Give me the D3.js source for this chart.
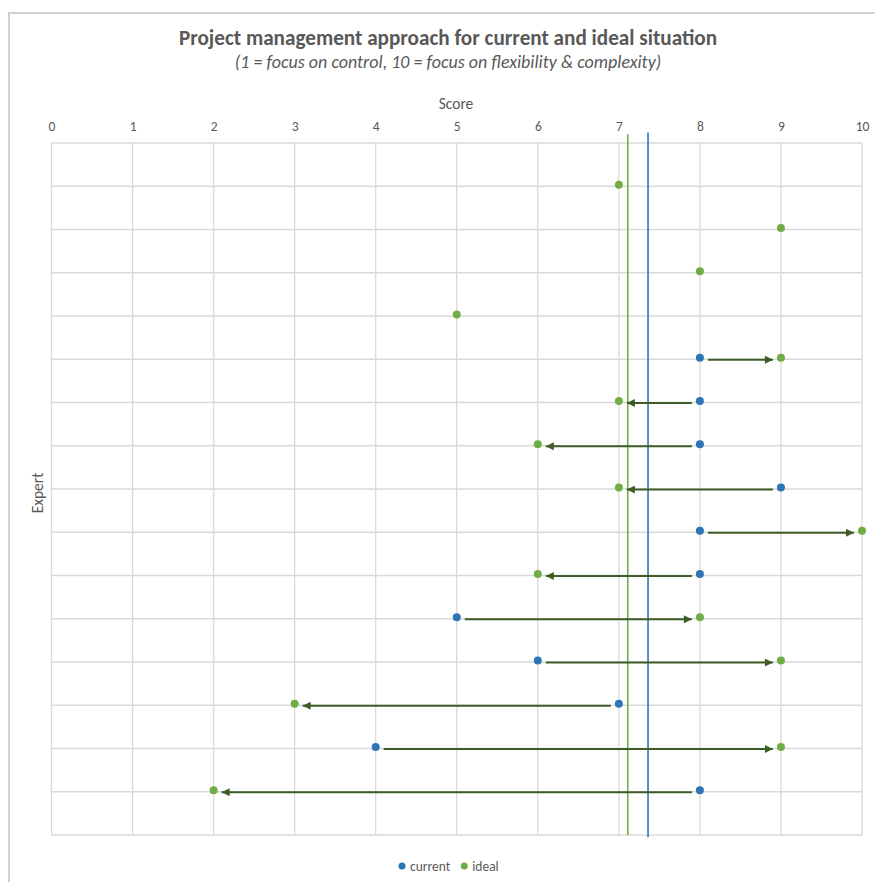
<!DOCTYPE html>
<html>
<head>
<meta charset="utf-8">
<script src="https://cdn.jsdelivr.net/npm/d3@7/dist/d3.min.js"></script>
<style>
  html, body { margin: 0; padding: 0; background: #fff; }
  svg { display: block; font-family: Carlito, Lato, "Open Sans", sans-serif; }
</style>
</head>
<body>
<svg id="chart" width="875" height="882"></svg>
<script>
// ---- data ----
const experts = [1, 2, 3, 4, 5, 6, 7, 8, 9, 10, 11, 12, 13, 14, 15];
const currentScores = [null, null, null, null, 8, 8, 8, 9, 8, 8, 5, 6, 7, 4, 8];
const idealScores = [7, 9, 8, 5, 9, 7, 6, 7, 10, 6, 8, 9, 3, 9, 2];
const meanCurrent = 7.36;
const meanIdeal = 7.11;
const xTicks = [0, 1, 2, 3, 4, 5, 6, 7, 8, 9, 10];
const yGrid = d3.range(0, 17);
const legendItems = [
  { label: "current", color: "#2e75b6" },
  { label: "ideal", color: "#70ad47" }
];

// ---- layout ----
const svg = d3.select("#chart");
const plot = { left: 51.5, right: 862, top: 143, bottom: 835 };
const x = d3.scaleLinear().domain([0, 10]).range([plot.left, plot.right]);
const y = d3.scaleLinear().domain([0, 16]).range([plot.top, plot.bottom]);
const blue = "#2e75b6", green = "#70ad47", arrowCol = "#3d5c27", grid = "#d9d9d9", txt = "#595959";

// outer chart border
svg.append("rect").attr("x", 9).attr("y", 13).attr("width", 880).attr("height", 900)
  .attr("fill", "none").attr("stroke", "#d0d0d0").attr("stroke-width", 2);

// titles
svg.append("text").attr("x", 448).attr("y", 45).attr("text-anchor", "middle")
  .attr("font-weight", "bold").attr("font-size", 21.2).attr("fill", txt)
  .text("Project management approach for current and ideal situation");
svg.append("text").attr("x", 448).attr("y", 68).attr("text-anchor", "middle")
  .attr("font-style", "italic").attr("font-size", 18).attr("fill", txt)
  .text("(1 = focus on control, 10 = focus on flexibility & complexity)");

// axis titles
svg.append("text").attr("x", 456).attr("y", 109).attr("text-anchor", "middle")
  .attr("font-size", 15.5).attr("fill", txt).text("Score");
svg.append("text").attr("transform", "translate(43,493) rotate(-90)").attr("text-anchor", "middle")
  .attr("font-size", 15.5).attr("fill", txt).text("Expert");

// gridlines
const g = svg.append("g");
g.selectAll("line.v").data(xTicks).join("line").attr("class", "v")
  .attr("x1", d => x(d)).attr("x2", d => x(d)).attr("y1", plot.top).attr("y2", plot.bottom)
  .attr("stroke", grid).attr("stroke-width", 1.3);
g.selectAll("line.h").data(yGrid).join("line").attr("class", "h")
  .attr("x1", plot.left).attr("x2", plot.right).attr("y1", d => y(d)).attr("y2", d => y(d))
  .attr("stroke", grid).attr("stroke-width", 1.3);

// top axis labels
const xAxis = d3.axisTop(x).tickValues(xTicks).tickSize(0).tickPadding(0).tickFormat(d3.format("d"));
const ax = svg.append("g").attr("transform", `translate(0,131)`).call(xAxis);
ax.select(".domain").remove();
ax.selectAll("text").attr("fill", txt).attr("font-size", 13.5).attr("font-family", "Carlito, Lato, sans-serif");

// mean lines
svg.append("line").attr("x1", x(meanIdeal)).attr("x2", x(meanIdeal))
  .attr("y1", y(-0.2)).attr("y2", y(16)).attr("stroke", green).attr("stroke-width", 1.6);
svg.append("line").attr("x1", x(meanCurrent)).attr("x2", x(meanCurrent))
  .attr("y1", y(-0.24)).attr("y2", y(16.05)).attr("stroke", blue).attr("stroke-width", 1.6);

// arrows
const defs = svg.append("defs");
defs.append("marker").attr("id", "ah").attr("viewBox", "0 0 10 10").attr("refX", 10).attr("refY", 5)
  .attr("markerWidth", 10).attr("markerHeight", 8).attr("markerUnits", "userSpaceOnUse").attr("orient", "auto")
  .append("path").attr("d", "M0,0 L10,5 L0,10 Z").attr("fill", arrowCol);

const pairs = experts.map((e, i) => ({ e, c: currentScores[i], v: idealScores[i] }))
  .filter(d => d.c !== null);
svg.append("g").selectAll("line").data(pairs).join("line")
  .attr("x1", d => x(d.c) + (d.v > d.c ? 8 : -8))
  .attr("x2", d => x(d.v) + (d.v > d.c ? -8 : 8))
  .attr("y1", d => y(d.e) + 0.5).attr("y2", d => y(d.e) + 0.5)
  .attr("stroke", arrowCol).attr("stroke-width", 2).attr("marker-end", "url(#ah)");

// points
const pts = svg.append("g");
pts.selectAll("circle.cur").data(pairs).join("circle").attr("class", "cur")
  .attr("cx", d => x(d.c)).attr("cy", d => y(d.e) - 1.5).attr("r", 4).attr("fill", blue);
pts.selectAll("circle.ide").data(experts.map((e, i) => ({ e, v: idealScores[i] }))).join("circle").attr("class", "ide")
  .attr("cx", d => x(d.v)).attr("cy", d => y(d.e) - 1.5).attr("r", 4).attr("fill", green);

// legend
const lg = svg.append("g").attr("transform", "translate(402,866)");
let lx = 0;
legendItems.forEach(it => {
  lg.append("circle").attr("cx", lx).attr("cy", 0).attr("r", 3.5).attr("fill", it.color);
  const t = lg.append("text").attr("x", lx + 8).attr("y", 4.5).attr("font-size", 13.5).attr("fill", txt).text(it.label);
  lx += 8 + t.node().getComputedTextLength() + 14;
});
</script>
</body>
</html>
